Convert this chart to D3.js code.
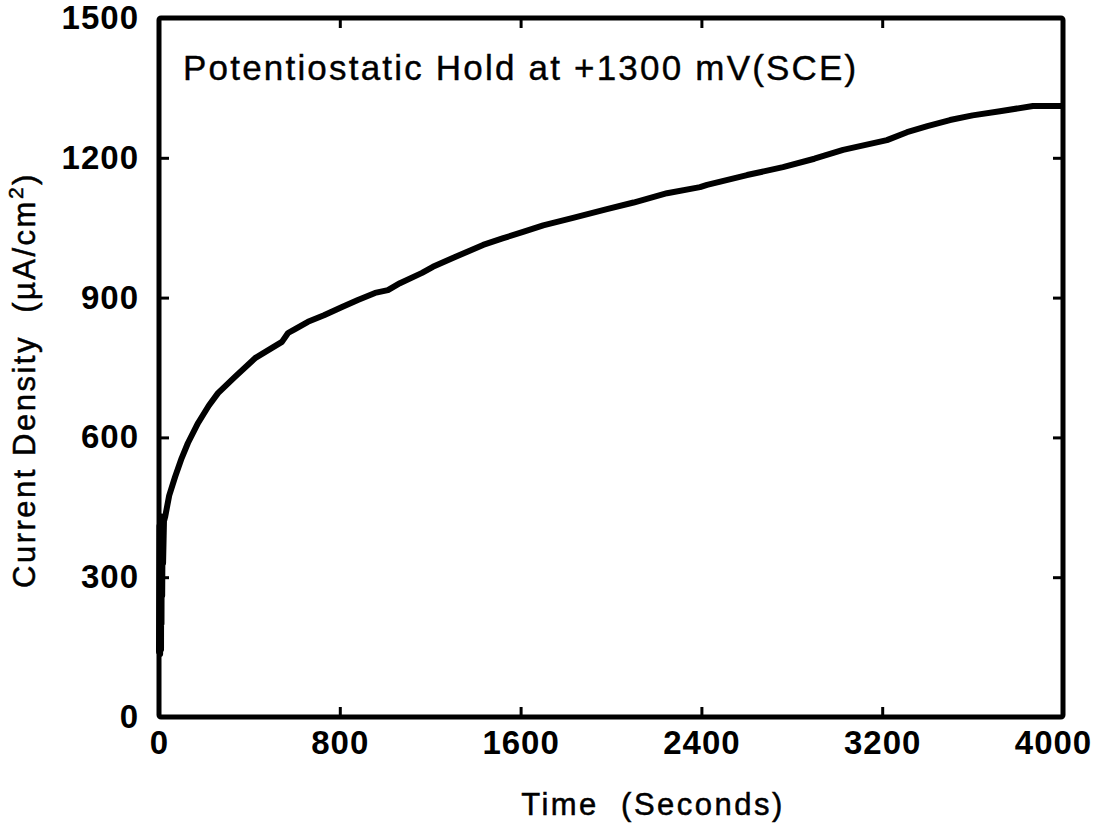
<!DOCTYPE html>
<html>
<head>
<meta charset="utf-8">
<script src="https://cdn.jsdelivr.net/npm/d3@7"></script>
<style>
  body { margin: 0; background: #fff; }
  text { font-family: "Liberation Sans", Arial, Helvetica, sans-serif; fill: #000; }
</style>
</head>
<body>
<div id="chart"></div>
<script>
// data
var timeSec = [0, 2, 3, 4, 5, 6, 7, 8, 9, 10, 11, 12, 14, 16, 18, 22, 27, 45, 71, 100, 128, 173, 220, 261, 336, 425, 500, 544, 571, 600, 659, 730, 810, 880, 956, 1013, 1066, 1164, 1212, 1310, 1434, 1520, 1611, 1700, 1832, 1982, 2100, 2248, 2394, 2425, 2602, 2761, 2900, 3027, 3221, 3310, 3400, 3500, 3600, 3721, 3867, 3995];
var currentDensity = [140, 410, 150, 390, 135, 420, 170, 400, 145, 430, 200, 380, 260, 410, 330, 420, 429, 475, 515, 555, 588, 631, 668, 695, 730, 770, 792, 805, 824, 832, 848, 862, 880, 895, 910, 916, 931, 953, 966, 987, 1013, 1027, 1041, 1055, 1071, 1090, 1104, 1124, 1137, 1142, 1163, 1180, 1198, 1217, 1238, 1255, 1268, 1281, 1291, 1300, 1311, 1311];
var xTicks = [0, 800, 1600, 2400, 3200, 4000];
var yTicks = [0, 300, 600, 900, 1200, 1500];

var W = 1104, H = 829;
var margin = {t: 18, r: 41, b: 112, l: 159};
var width = W - margin.l - margin.r;
var height = H - margin.t - margin.b;

var svg = d3.select('#chart').append('svg')
    .attr('width', W)
    .attr('height', H);

var plot = svg.append('g')
    .attr('transform', 'translate(' + margin.l + ',' + margin.t + ')');

var x = d3.scaleLinear().domain([0, 4000]).range([0, width]);
var y = d3.scaleLinear().domain([0, 1500]).range([height, 0]);

//left axis with inward ticks
var yAxis = plot.append('g')
    .call(d3.axisLeft(y).tickValues(yTicks).tickSize(-10).tickPadding(20).tickFormat(d3.format('d')));
//bottom axis
var xAxis = plot.append('g')
    .attr('transform', 'translate(0,' + height + ')')
    .call(d3.axisBottom(x).tickValues(xTicks).tickSize(-10).tickPadding(14).tickFormat(d3.format('d')));
//right and top only carry ticks
var yAxisR = plot.append('g')
    .attr('transform', 'translate(' + width + ',0)')
    .call(d3.axisRight(y).tickValues(yTicks).tickSize(-10).tickFormat(''));
var xAxisT = plot.append('g')
    .call(d3.axisTop(x).tickValues(xTicks).tickSize(-10).tickFormat(''));

[yAxis, xAxis, yAxisR, xAxisT].forEach(function (a) {
    a.select('.domain').remove();
    a.selectAll('line').attr('stroke', '#000').attr('stroke-width', 3);
    a.selectAll('text')
        .attr('font-size', '33px')
        .attr('font-weight', 'bold')
        .style('font-family', '"Liberation Sans", Arial, sans-serif')
        .attr('fill', '#000')
        .attr('letter-spacing', '1px');
});

//last x label sits a little left of its tick, as in the scan
xAxis.selectAll('.tick text').filter(function (d) { return d === 4000; })
    .attr('dx', '-10');

//frame
plot.append('rect')
    .attr('x', 0)
    .attr('y', 0)
    .attr('width', width)
    .attr('height', height)
    .attr('fill', 'none')
    .attr('stroke', '#000')
    .attr('stroke-width', 5)
    .attr('rx', 2);

//curve
var series = timeSec.map(function (t, i) { return {t: t, v: currentDensity[i]}; });
var line = d3.line()
    .x(function (d) { return x(d.t); })
    .y(function (d) { return y(d.v); })
    .curve(d3.curveLinear);

plot.append('path')
    .datum(series)
    .attr('d', line)
    .attr('fill', 'none')
    .attr('stroke', '#000')
    .attr('stroke-width', 6)
    .attr('stroke-linejoin', 'round')
    .attr('stroke-linecap', 'round');

//annotation
svg.append('text')
    .attr('x', 183)
    .attr('y', 80)
    .attr('font-size', '35px')
    .attr('letter-spacing', '2.2px')
    .attr('stroke', '#000')
    .attr('stroke-width', 0.4)
    .text('Potentiostatic Hold at +1300 mV(SCE)');

//axis titles
svg.append('text')
    .attr('x', 653)
    .attr('y', 815)
    .attr('font-size', '31px')
    .attr('letter-spacing', '2.5px')
    .attr('stroke', '#000')
    .attr('stroke-width', 0.5)
    .style('text-anchor', 'middle')
    .style('white-space', 'pre')
    .text('Time  (Seconds)');

var yTitle = svg.append('text')
    .attr('transform', 'translate(35,' + 380 + ') rotate(-90)')
    .attr('font-size', '31px')
    .attr('letter-spacing', '2.5px')
    .attr('stroke', '#000')
    .attr('stroke-width', 0.5)
    .style('text-anchor', 'middle')
    .style('white-space', 'pre');
yTitle.append('tspan').text('Current Density  (\u00b5A/cm');
yTitle.append('tspan').attr('font-size', '21px').attr('dy', '-12').text('2');
yTitle.append('tspan').attr('dy', '12').text(')');
</script>
</body>
</html>
